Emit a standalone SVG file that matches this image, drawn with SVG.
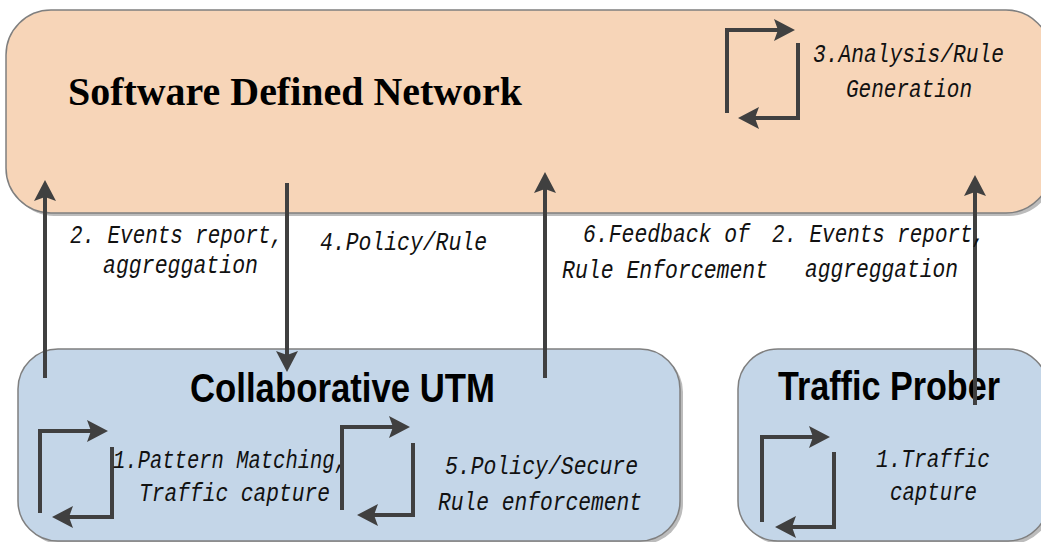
<svg xmlns="http://www.w3.org/2000/svg" width="1041" height="542" viewBox="0 0 1041 542">
  <defs>
    <marker id="head" markerUnits="userSpaceOnUse" markerWidth="24" markerHeight="24" viewBox="0 -12 22 24" refX="15" refY="0" orient="auto">
      <path d="M0,-11 L21,0 L0,11 L4,0 Z" fill="#404040"/>
    </marker>
  </defs>
  <style>
    .box-sdn { fill: #f7d5b8; stroke: #7f7f7f; stroke-width: 1.5; }
    .box-blue { fill: #c4d6e8; stroke: #7f7f7f; stroke-width: 1.5; }
    .shadow { fill: #bcbcbc; }
    .title { font-family: "Liberation Sans", Arial, sans-serif; font-weight: bold; fill: #000; }
    .title-serif { font-family: "Liberation Serif", "Times New Roman", serif; font-weight: bold; fill: #000; }
    .label { font-family: "Liberation Mono", "Courier New", monospace; font-style: italic; font-size: 26px; fill: #111; }
    .wire { fill: none; stroke: #404040; stroke-width: 4; marker-end: url(#head); }
    .loop-arrow { fill: none; stroke: #404040; stroke-width: 4; marker-end: url(#head); }
  </style>

  <!-- Software Defined Network -->
  <g id="sdn">
    <rect class="shadow" x="9" y="13" width="1045" height="203" rx="45"/>
    <rect class="box-sdn" x="6" y="10" width="1045" height="203" rx="45"/>
    <text class="title-serif" x="68" y="105" font-size="41" textLength="454" lengthAdjust="spacingAndGlyphs">Software Defined Network</text>
    <g id="sdn-loop">
      <path class="loop-arrow" d="M727,113 V30 H789"/>
      <path class="loop-arrow" d="M798,43 V118 H744"/>
    </g>
    <text class="label" x="813" y="62" textLength="191" lengthAdjust="spacingAndGlyphs">3.Analysis/Rule</text>
    <text class="label" x="846" y="97" textLength="126" lengthAdjust="spacingAndGlyphs">Generation</text>
  </g>

  <!-- Collaborative UTM -->
  <g id="utm">
    <rect class="shadow" x="21" y="352" width="662" height="192" rx="40"/>
    <rect class="box-blue" x="18" y="349" width="662" height="192" rx="40"/>
    <text class="title" x="190" y="402" font-size="40" textLength="305" lengthAdjust="spacingAndGlyphs">Collaborative UTM</text>
    <g id="utm-loop-1">
      <path class="loop-arrow" d="M40,513 V431 H102"/>
      <path class="loop-arrow" d="M112,447 V517 H58"/>
    </g>
    <text class="label" x="113" y="468" textLength="234" lengthAdjust="spacingAndGlyphs">1.Pattern Matching,</text>
    <text class="label" x="139" y="501" textLength="191" lengthAdjust="spacingAndGlyphs">Traffic capture</text>
    <g id="utm-loop-2">
      <path class="loop-arrow" d="M342,510 V427 H404"/>
      <path class="loop-arrow" d="M413,443 V515 H363"/>
    </g>
    <text class="label" x="445" y="474" textLength="193" lengthAdjust="spacingAndGlyphs">5.Policy/Secure</text>
    <text class="label" x="438" y="510" textLength="204" lengthAdjust="spacingAndGlyphs">Rule enforcement</text>
  </g>

  <!-- Traffic Prober -->
  <g id="prober">
    <rect class="shadow" x="741" y="352" width="310" height="192" rx="40"/>
    <rect class="box-blue" x="738" y="349" width="310" height="192" rx="40"/>
    <text class="title" x="778" y="400" font-size="40" textLength="222" lengthAdjust="spacingAndGlyphs">Traffic Prober</text>
    <g id="prober-loop">
      <path class="loop-arrow" d="M762,522 V437 H824"/>
      <path class="loop-arrow" d="M834,452 V527 H781"/>
    </g>
    <text class="label" x="876" y="467" textLength="114" lengthAdjust="spacingAndGlyphs">1.Traffic</text>
    <text class="label" x="890" y="500" textLength="87" lengthAdjust="spacingAndGlyphs">capture</text>
  </g>

  <!-- Connectors between the layers -->
  <g id="connectors">
    <path class="wire" d="M45,378 V186"/>
    <path class="wire" d="M287,183 V366"/>
    <path class="wire" d="M545,378 V178"/>
    <path class="wire" d="M975,405 V181"/>
  </g>

  <!-- Connector labels -->
  <g id="connector-labels">
    <text class="label" x="70" y="243" textLength="213" lengthAdjust="spacingAndGlyphs">2. Events report,</text>
    <text class="label" x="103" y="273" textLength="155" lengthAdjust="spacingAndGlyphs">aggreggation</text>
    <text class="label" x="320" y="250" textLength="167" lengthAdjust="spacingAndGlyphs">4.Policy/Rule</text>
    <text class="label" x="583" y="242" textLength="167" lengthAdjust="spacingAndGlyphs">6.Feedback of</text>
    <text class="label" x="562" y="278" textLength="206" lengthAdjust="spacingAndGlyphs">Rule Enforcement</text>
    <text class="label" x="772" y="242" textLength="213" lengthAdjust="spacingAndGlyphs">2. Events report,</text>
    <text class="label" x="805" y="277" textLength="153" lengthAdjust="spacingAndGlyphs">aggreggation</text>
  </g>
</svg>
